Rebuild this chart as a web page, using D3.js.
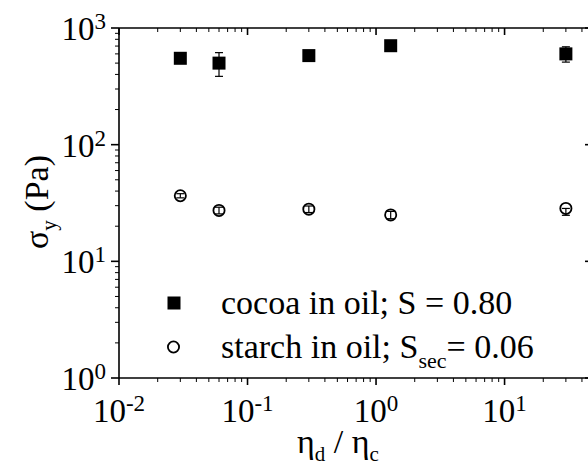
<!DOCTYPE html>
<html>
<head>
<meta charset="utf-8">
<script src="https://cdn.jsdelivr.net/npm/d3@7/dist/d3.min.js"></script>
<style>
  html, body { margin: 0; padding: 0; background: #fff; }
  svg { display: block; }
</style>
</head>
<body>
<svg id="chart" width="588" height="470"></svg>
<script>
// Viscosity ratio (x) and yield stress (y) for the two suspensions
const viscosityRatio = [0.03, 0.06, 0.3, 1.3, 30];
const cocoaStress    = [550, 500, 580, 705, 600];
const cocoaErr       = [20, 115, 20, 20, 90];
const starchStress   = [36.5, 27.3, 28, 25, 28.4];
const starchErrLow   = [1.5, 1.8, 1.8, 1.8, 3.6];
const starchErrHigh  = [1.5, 1.8, 1.8, 1.8, 0];

const xTickExps = [-2, -1, 0, 1];
const yTickExps = [0, 1, 2, 3];

const legendLabels = [
  { main: "cocoa in oil; S", sub: "", rest: " = 0.80" },
  { main: "starch in oil; S", sub: "sec", rest: "= 0.06" }
];

const FONT = "'Liberation Serif'";
const svg = d3.select("#chart");

const plotL = 119, plotR = 592, plotT = 28, plotB = 378;
const x = d3.scaleLog().domain([0.01, 47.9]).range([plotL, plotR]);
const y = d3.scaleLog().domain([1, 1000]).range([plotB, plotT]);

// log-scale tick positions (majors at decades, minors at 2..9)
function logTicks(scale) {
  const [a, b] = scale.domain();
  const majors = [], minors = [];
  for (let e = Math.floor(Math.log10(a)); e <= Math.ceil(Math.log10(b)); e++) {
    for (let k = 1; k <= 9; k++) {
      const v = k * Math.pow(10, e);
      if (v < a * 0.9999 || v > b * 1.0001) continue;
      (k === 1 ? majors : minors).push(v);
    }
  }
  return { majors, minors };
}
const xt = logTicks(x), yt = logTicks(y);

const axes = svg.append("g").attr("stroke", "#000").attr("fill", "none");

// Frame lines
axes.append("line").attr("x1", plotL).attr("x2", plotR + 1).attr("y1", plotB).attr("y2", plotB).attr("stroke-width", 1.6);
axes.append("line").attr("x1", plotL).attr("x2", plotR + 1).attr("y1", plotT).attr("y2", plotT).attr("stroke-width", 1.6);
axes.append("line").attr("x1", plotL).attr("x2", plotL).attr("y1", plotT).attr("y2", plotB).attr("stroke-width", 1.6);
axes.append("line").attr("x1", plotR).attr("x2", plotR).attr("y1", plotT).attr("y2", plotB).attr("stroke-width", 1.6);

// Bottom ticks (outward) and top ticks (inward)
xt.majors.forEach(v => {
  axes.append("line").attr("x1", x(v)).attr("x2", x(v)).attr("y1", plotB).attr("y2", plotB + 7).attr("stroke-width", 1.6);
  axes.append("line").attr("x1", x(v)).attr("x2", x(v)).attr("y1", plotT).attr("y2", plotT + 7).attr("stroke-width", 1.6);
});
xt.minors.forEach(v => {
  axes.append("line").attr("x1", x(v)).attr("x2", x(v)).attr("y1", plotB).attr("y2", plotB + 4).attr("stroke-width", 1);
  axes.append("line").attr("x1", x(v)).attr("x2", x(v)).attr("y1", plotT).attr("y2", plotT + 4).attr("stroke-width", 1);
});
// Left ticks (outward) and right ticks (inward)
yt.majors.forEach(v => {
  axes.append("line").attr("x1", plotL - 8).attr("x2", plotL).attr("y1", y(v)).attr("y2", y(v)).attr("stroke-width", 1.6);
  axes.append("line").attr("x1", plotR - 7).attr("x2", plotR).attr("y1", y(v)).attr("y2", y(v)).attr("stroke-width", 1.6);
});
yt.minors.forEach(v => {
  axes.append("line").attr("x1", plotL - 4).attr("x2", plotL).attr("y1", y(v)).attr("y2", y(v)).attr("stroke-width", 1);
  axes.append("line").attr("x1", plotR - 4).attr("x2", plotR).attr("y1", y(v)).attr("y2", y(v)).attr("stroke-width", 1);
});

// Tick labels: 10 with a raised exponent
function powerLabel(g, px, py, exp, anchor) {
  const t = g.append("text").attr("x", px).attr("y", py).attr("text-anchor", anchor)
    .style("font-family", FONT).style("font-size", "33px");
  t.append("tspan").text("10");
  t.append("tspan").attr("dy", -11).style("font-size", "23px").text(exp < 0 ? "-" + (-exp) : String(exp));
  return t;
}
const labels = svg.append("g");
xTickExps.forEach(e => powerLabel(labels, x(Math.pow(10, e)), 422, e, "middle"));
yTickExps.forEach(e => powerLabel(labels, 106, y(Math.pow(10, e)) + 12, e, "end"));

// Axis titles
const xTitle = svg.append("text").attr("x", 338).attr("y", 453).attr("text-anchor", "middle")
  .style("font-family", FONT).style("font-size", "34px");
xTitle.append("tspan").text("η");
xTitle.append("tspan").attr("dy", 8).style("font-size", "21px").text("d");
xTitle.append("tspan").attr("dy", -8).text(" / η");
xTitle.append("tspan").attr("dy", 8).style("font-size", "21px").text("c");

const yTitle = svg.append("text").attr("transform", "translate(48,202) rotate(-90)").attr("text-anchor", "middle")
  .style("font-family", FONT).style("font-size", "34px");
yTitle.append("tspan").text("σ");
yTitle.append("tspan").attr("dy", 8).style("font-size", "21px").text("y");
yTitle.append("tspan").attr("dy", -8).text(" (Pa)");

// Error bars
const capW = 4;
function errorBar(g, cx, yLo, yHi) {
  g.append("line").attr("x1", cx).attr("x2", cx).attr("y1", yLo).attr("y2", yHi);
  g.append("line").attr("x1", cx - capW).attr("x2", cx + capW).attr("y1", yLo).attr("y2", yLo);
  g.append("line").attr("x1", cx - capW).attr("x2", cx + capW).attr("y1", yHi).attr("y2", yHi);
}
const eb = svg.append("g").attr("stroke", "#000").attr("stroke-width", 1.2);
viscosityRatio.forEach((v, i) => {
  errorBar(eb, x(v), y(cocoaStress[i] - cocoaErr[i]), y(cocoaStress[i] + cocoaErr[i]));
  errorBar(eb, x(v), y(starchStress[i] - starchErrLow[i]), y(starchStress[i] + starchErrHigh[i]));
});

// Markers
const sq = 13;
svg.append("g").selectAll("rect").data(viscosityRatio).join("rect")
  .attr("x", d => x(d) - sq / 2)
  .attr("y", (d, i) => y(cocoaStress[i]) - sq / 2)
  .attr("width", sq).attr("height", sq).attr("fill", "#000");

svg.append("g").selectAll("circle").data(viscosityRatio).join("circle")
  .attr("cx", d => x(d))
  .attr("cy", (d, i) => y(starchStress[i]))
  .attr("r", 5.6).attr("fill", "none").attr("stroke", "#000").attr("stroke-width", 1.8);

// Legend
const leg = svg.append("g");
leg.append("rect").attr("x", 174 - sq / 2).attr("y", 303 - sq / 2).attr("width", sq).attr("height", sq).attr("fill", "#000");
leg.append("circle").attr("cx", 173.5).attr("cy", 347).attr("r", 5.6).attr("fill", "none").attr("stroke", "#000").attr("stroke-width", 1.8);
legendLabels.forEach((l, i) => {
  const t = leg.append("text").attr("x", 221).attr("y", 314 + i * 44)
    .style("font-family", FONT).style("font-size", "34px");
  t.append("tspan").text(l.main);
  if (l.sub) {
    t.append("tspan").attr("dy", 10).style("font-size", "22px").text(l.sub);
    t.append("tspan").attr("dy", -10).text(l.rest);
  } else {
    t.append("tspan").text(l.rest);
  }
});
</script>
</body>
</html>
